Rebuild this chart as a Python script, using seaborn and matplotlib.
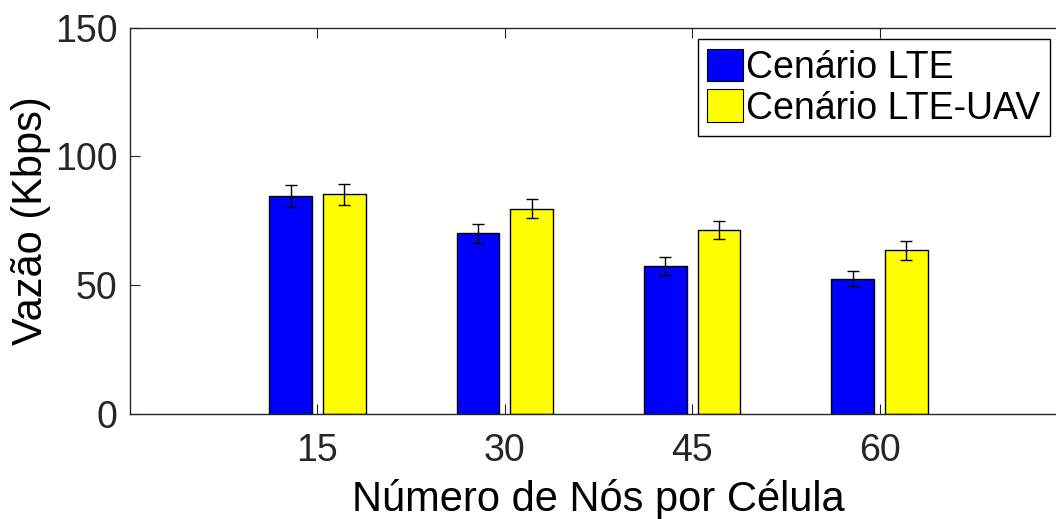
import numpy as np
import pandas as pd
import matplotlib
matplotlib.use("Agg")
import matplotlib.pyplot as plt
import seaborn as sns
from matplotlib.patches import Patch

# Throughput per number of nodes in the cell, for both scenarios
nodes = ["15", "30", "45", "60"]
series = ["Cenário LTE", "Cenário LTE-UAV"]
lte_mean = [84.5, 70.1, 57.3, 52.5]
uav_mean = [85.3, 79.7, 71.3, 63.5]
lte_err = [4.3, 3.8, 3.4, 3.0]
uav_err = [4.1, 3.8, 3.5, 3.6]
colors = ["#0000ff", "#ffff00"]

df = pd.DataFrame({
    "nos": nodes * 2,
    "cenario": [series[0]] * len(nodes) + [series[1]] * len(nodes),
    "vazao": lte_mean + uav_mean,
})
errs = {series[0]: lte_err, series[1]: uav_err}

sns.set_style("white")
plt.rcParams["font.family"] = ["Liberation Sans", "DejaVu Sans"]

W, H = 1056, 519
fig = plt.figure(figsize=(W / 100, H / 100), dpi=100)
ax = fig.add_axes([130 / W, 1 - 413.7 / H, 937 / W, (413.7 - 27.7) / H])

sns.barplot(data=df, x="nos", y="vazao", hue="cenario", order=nodes,
            hue_order=series, palette=colors, width=0.571, gap=0.2,
            edgecolor="black", linewidth=1.0, saturation=1.0,
            errorbar=None, legend=False, ax=ax)

# Error bars on top of each bar, taken from the drawn bar geometry
for cont, name in zip(ax.containers, series):
    xs = [p.get_x() + p.get_width() / 2 for p in cont.patches]
    hs = [p.get_height() for p in cont.patches]
    ax.errorbar(xs, hs, yerr=errs[name], fmt="none", ecolor="black",
                elinewidth=1.0, capsize=4.3, capthick=1.0, zorder=5)

ax.set_xlim(-1, 4)
ax.set_ylim(0, 150)
ax.set_yticks([0, 50, 100, 150])
ax.set_xlabel("Número de Nós por Célula", fontsize=30, color="black", labelpad=7)
ax.set_ylabel("Vazão (Kbps)", fontsize=30, color="black", labelpad=2.5)

for s in ax.spines.values():
    s.set_visible(True)
    s.set_color("#262626")
    s.set_linewidth(1.0)

ax.tick_params(axis="both", direction="in", length=7, width=0.8,
               color="#262626", labelsize=27, labelcolor="#262626",
               top=True, right=True, bottom=True, left=True)
ax.tick_params(axis="x", pad=14)
ax.tick_params(axis="y", pad=9)

handles = [Patch(facecolor=c, edgecolor="black", linewidth=0.8) for c in colors]
leg = ax.legend(handles, series, loc="upper right",
                bbox_to_anchor=(1050 / W, 1 - 39.3 / H),
                bbox_transform=fig.transFigure, fontsize=27,
                frameon=True, fancybox=False, framealpha=1,
                edgecolor="black", handlelength=0.95, handleheight=0.95,
                handletextpad=0.1, borderpad=0.25, labelspacing=0.1,
                borderaxespad=0, labelcolor="black")
leg.get_frame().set_linewidth(1.0)

fig.savefig("out.png", dpi=100)
